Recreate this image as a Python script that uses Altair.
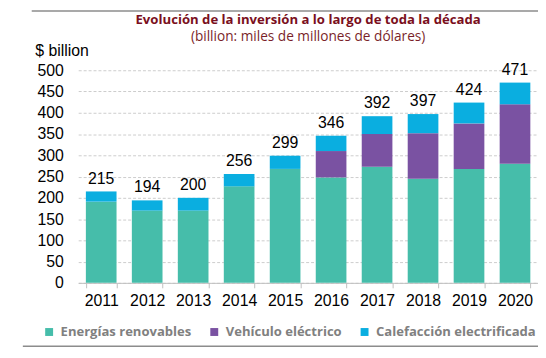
import altair as alt
import pandas as pd

years = ["2011", "2012", "2013", "2014", "2015", "2016", "2017", "2018", "2019", "2020"]
renovables = [191, 170, 170, 227, 268, 248, 273, 245, 268, 280]
vehiculo = [0, 0, 0, 0, 0, 62, 77, 107, 107, 140]
calefaccion = [24, 24, 30, 29, 31, 36, 42, 45, 49, 51]
totales = [215, 194, 200, 256, 299, 346, 392, 397, 424, 471]
y_ticks = [0, 50, 100, 150, 200, 250, 300, 350, 400, 450, 500]
series = ["Energías renovables", "Vehículo eléctrico", "Calefacción electrificada"]
colors = ["#46BDAA", "#7A52A2", "#0AAEE0"]

rows = []
for i, y in enumerate(years):
    for k, (name, vals) in enumerate(zip(series, [renovables, vehiculo, calefaccion])):
        rows.append({"year": y, "serie": name, "value": vals[i], "order": k})
df = pd.DataFrame(rows)
tot = pd.DataFrame({"year": years, "total": totales})

W, H = 465, 215

xscale = alt.Scale(paddingInner=0.333, paddingOuter=0.1667)
yscale = alt.Scale(domain=[0, 500])


def x_axis():
    return alt.Axis(labelAngle=0, labelFont="Liberation Sans", labelFontSize=16,
                    labelColor="#000000", domainColor="#BFBFBF", tickColor="#BFBFBF",
                    tickSize=5, tickBand="extent", labelPadding=5)


def y_axis():
    return alt.Axis(values=y_ticks, labelOverlap=False,
                    domain=False, ticks=False,
                    labelFont="Liberation Sans", labelFontSize=16, labelColor="#000000",
                    labelPadding=15, gridColor="#CCCCCC", gridDash=[3, 2],
                    titleAngle=0, titleX=-44, titleY=-20, titleAlign="left",
                    titleBaseline="middle", titleFont="Liberation Sans",
                    titleFontSize=16, titleFontWeight="normal", titleColor="#000000")


bars = alt.Chart(df).mark_bar().encode(
    x=alt.X("year:O", title=None, scale=xscale, axis=x_axis()),
    y=alt.Y("value:Q", title="$ billion", stack="zero", scale=yscale, axis=y_axis()),
    color=alt.Color("serie:N", scale=alt.Scale(domain=series, range=colors),
                    legend=alt.Legend(title=None, orient="none", direction="horizontal",
                                      legendX=-36, legendY=258, symbolType="square",
                                      symbolSize=64, symbolStrokeWidth=0,
                                      labelFont="Open Sans", labelFontWeight="bold",
                                      labelFontSize=13.2, labelColor="#808080",
                                      labelLimit=400,
                                      columnPadding=16, labelOffset=5)),
    order=alt.Order("order:Q"),
)

labels = alt.Chart(tot).mark_text(font="Liberation Sans", fontSize=16, color="#000000",
                                  baseline="alphabetic", dy=-8).encode(
    x=alt.X("year:O", title=None, scale=xscale, axis=x_axis()),
    y=alt.Y("total:Q", title="$ billion", scale=yscale, axis=y_axis()),
    text=alt.Text("total:Q"),
)

top_line = alt.Chart(pd.DataFrame({"a": [0]})).mark_rule(color="#8C8C8C", strokeWidth=1.5).encode(
    x=alt.value(-47), x2=alt.value(W + 2), y=alt.value(-60))
bot_line = alt.Chart(pd.DataFrame({"a": [0]})).mark_rule(color="#8C8C8C", strokeWidth=1.5).encode(
    x=alt.value(-56), x2=alt.value(W + 2), y=alt.value(279))

chart = alt.layer(bars, labels, top_line, bot_line).properties(
    width=W, height=H,
    autosize=alt.AutoSizeParams(type="none"),
    padding={"left": 71, "top": 61, "right": 0, "bottom": 72},
    title=alt.TitleParams(
        text="Evolución de la inversión a lo largo de toda la década",
        subtitle="(billion: miles de millones de dólares)",
        font="Open Sans", fontSize=13.3, fontWeight="bold", color="#7A0F20",
        subtitleFont="Open Sans", subtitleFontSize=13.8, subtitleColor="#7A1F2A",
        subtitlePadding=4, anchor="middle", offset=-34,
    ),
).configure_view(stroke=None)

chart.save("out.html", embed_options={"renderer": "svg", "actions": False})
